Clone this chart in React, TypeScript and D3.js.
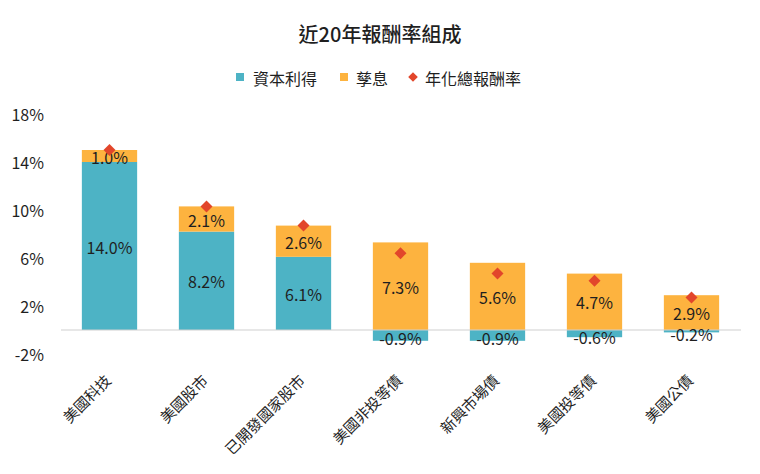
import React from 'react';
import { scaleBand, scaleLinear, stack, stackOffsetDiverging, symbol, symbolSquare } from 'd3';

// 資料
const categories = ['美國科技', '美國股市', '已開發國家股市', '美國非投等債', '新興市場債', '美國投等債', '美國公債'];
const capitalGain = [14.0, 8.2, 6.1, -0.9, -0.9, -0.6, -0.2];
const dividend = [1.0, 2.1, 2.6, 7.3, 5.6, 4.7, 2.9];
const totalReturn = [15.0, 10.3, 8.7, 6.4, 4.7, 4.1, 2.7];
const yTicks = [-2, 2, 6, 10, 14, 18];
const seriesNames = ['資本利得', '孳息', '年化總報酬率'];

const colors = { cap: '#4DB3C5', div: '#FDB33F', total: '#E2462B', text: '#1f1f1f' };
const font = '"Noto Sans CJK TC", "Noto Sans", sans-serif';

const App = () => {
    const svgWidth = 760;
    const svgHeight = 474;

    const x = scaleBand<string>().domain(categories).range([61, 740]).paddingInner(0.43).paddingOuter(0.215);
    const y = scaleLinear().domain([-2, 18]).range([354, 114]);

    const rows = categories.map((c, i) => ({ name: c, cap: capitalGain[i], div: dividend[i] }));
    const stacked = stack<any>().keys(['cap', 'div']).offset(stackOffsetDiverging)(rows);
    const fills = [colors.cap, colors.div];

    const diamond = symbol().type(symbolSquare).size(72)();

    let bars = [];
    let labels = [];
    stacked.forEach((layer, li) => {
        layer.forEach((d, i) => {
            const y0 = y(Math.max(d[0], d[1]));
            const y1 = y(Math.min(d[0], d[1]));
            const bx = x(categories[i]);
            bars.push(<rect key={`b${li}-${i}`} x={bx} y={y0} width={x.bandwidth()} height={y1 - y0} fill={fills[li]} />);
            const v = li == 0 ? capitalGain[i] : dividend[i];
            // 負值標籤稍微往下，避免和孳息標籤重疊
            const ly = (y0 + y1) / 2 + (v < 0 ? 3 : 0.5);
            labels.push(<text key={`l${li}-${i}`} x={bx + x.bandwidth() / 2} y={ly} textAnchor='middle'
                dominantBaseline='central' fontSize={16} fill={colors.text}>{v.toFixed(1)}%</text>);
        });
    });

    return (
        <div style={{ position: 'absolute', left: 0, top: 0 }}>
            <svg width={svgWidth} height={svgHeight} style={{ display: 'block', background: '#fff', fontFamily: font }}>
                <text x={380} y={33} textAnchor='middle' dominantBaseline='central' fontSize={20} fontWeight={500} fill={colors.text}>近20年報酬率組成</text>

                {/* 圖例 */}
                <g fontSize={16} fill={colors.text}>
                    <rect x={236} y={73} width={8} height={8} fill={colors.cap} />
                    <text x={253} y={78} dominantBaseline='central'>{seriesNames[0]}</text>
                    <rect x={340} y={73} width={8} height={8} fill={colors.div} />
                    <text x={356} y={78} dominantBaseline='central'>{seriesNames[1]}</text>
                    <path d={diamond} transform='translate(413,77) rotate(45) scale(0.8)' fill={colors.total} />
                    <text x={425} y={78} dominantBaseline='central'>{seriesNames[2]}</text>
                </g>

                {/* y 軸 */}
                <g fontSize={16} fill={colors.text}>
                    {yTicks.map(t => <text key={t} x={44} y={y(t)} textAnchor='end' dominantBaseline='central'>{t}%</text>)}
                </g>

                <g>{bars}</g>
                <line x1={61} x2={741} y1={y(0)} y2={y(0)} stroke='#cfcfcf' strokeWidth={1} />
                <g>{labels}</g>

                {totalReturn.map((v, i) => (
                    <path key={`t${i}`} d={diamond} transform={`translate(${x(categories[i]) + x.bandwidth() / 2},${y(v)}) rotate(45)`} fill={colors.total} />
                ))}

                {/* x 軸 */}
                <g fontSize={15} fill={colors.text}>
                    {categories.map(c => (
                        <text key={c} transform={`translate(${x(c) + x.bandwidth() / 2 - 2},${377}) rotate(-45)`} textAnchor='end' dominantBaseline='central'>{c}</text>
                    ))}
                </g>
            </svg>
        </div>
    );
}

export default App;
